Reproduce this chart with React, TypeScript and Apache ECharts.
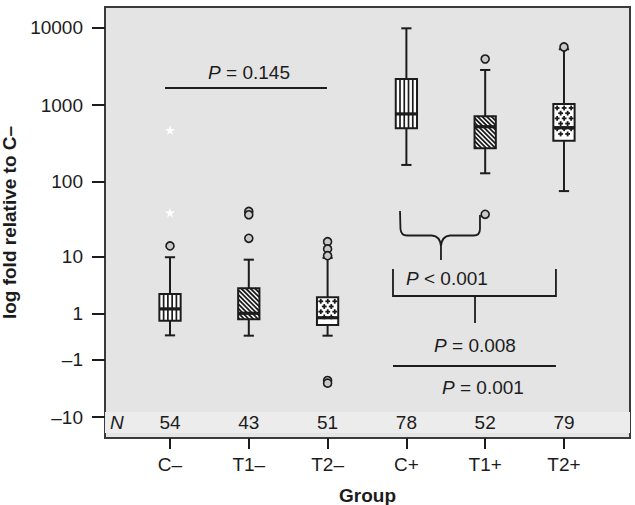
import React, { useEffect, useRef } from 'react';
import * as echarts from 'echarts';

// ---- data (original units) ----
const categories = ['C–', 'T1–', 'T2–', 'C+', 'T1+', 'T2+'];
const nCounts = [54, 43, 51, 78, 52, 79];
const whiskerLow = [0.04, 0.03, 0.03, 167, 130, 76];
const quartile1 = [0.61, 0.68, 0.42, 500, 275, 346];
const medians = [1.29, 1.01, 0.76, 769, 525, 510];
const quartile3 = [2.57, 3.24, 2.24, 2180, 717, 1035];
const whiskerHigh = [9.7, 8.95, 9.5, 9900, 2857, 5300];
const outlierGroup = [0, 1, 1, 1, 2, 2, 2, 2, 2, 4, 4, 5];
const outlierValue = [14, 41, 37, 17.8, 16, 12.7, 10.2, -2.7, -3.0, 3963, 37.5, 5675];
const extremeGroup = [0, 0];
const extremeValue = [475, 39.5];
const yTickValues = [10000, 1000, 100, 10, 1, -1, -10];
const yTickLabels = ['10000', '1000', '100', '10', '1', '–1', '–10'];

// ---- styles ----
const patterns = ['vertical', 'diagonal', 'cross', 'vertical', 'diagonal', 'cross'];
const FONT = '"Liberation Sans", Arial, Helvetica, sans-serif';
const INK = '#1c1c1c';
const FS = 19;

// symmetric log transform used by the y axis
const t = (v: number) => Math.sign(v) * Math.log10(1 + Math.abs(v));

// annotation anchors in axis units (x: category index, y: transformed units)
const ANN = {
  p145: { x0: -0.063, x1: 1.992, y: 3.2225, tx: 1.003, ty: 3.417 },
  brace: { xl: 2.919, xr: 3.934, xm: 3.439, yTop: 1.6286, yTopR: 1.5768, yBend: 1.3953, yBar: 1.3111, yJoin: 1.1751, yTip: 0.9937 },
  p001a: { x0: 2.83, x1: 4.898, yTop: 0.8771, yBar: 0.5272, stemX: 3.871, stemY: 0.1773, tx: 2.995, ty: 0.7475 },
  p008: { tx: 3.871, ty: -0.108 },
  line2: { x0: 2.83, x1: 4.898, y: -0.38 },
  p001b: { tx: 3.972, ty: -0.665 },
  nRowY: -1.1186,
  nLabelX: -0.673,
  bandTop: -0.976,
  bandBottom: -1.248,
};

const starPath = 'path://M50,0 L61,35 L98,35 L68,57 L79,91 L50,70 L21,91 L32,57 L2,35 L39,35 Z';

export default function App() {
  const ref = useRef<HTMLDivElement>(null);

  useEffect(() => {
    const chart = echarts.init(ref.current!, null, { renderer: 'svg' });
    const yTicks = yTickValues.map(t);

    const boxData = categories.map((_, i) => [
      i,
      t(whiskerLow[i]),
      t(quartile1[i]),
      t(medians[i]),
      t(quartile3[i]),
      t(whiskerHigh[i]),
    ]);

    const renderBox = (params: any, api: any) => {
      const i = api.value(0);
      const lo = api.coord([i, api.value(1)]);
      const q1 = api.coord([i, api.value(2)]);
      const md = api.coord([i, api.value(3)]);
      const q3 = api.coord([i, api.value(4)]);
      const hi = api.coord([i, api.value(5)]);
      const cx = lo[0];
      const bw = api.size([1, 0])[0] * 0.27;
      const left = cx - bw / 2;
      const right = cx + bw / 2;
      const top = q3[1];
      const bottom = q1[1];
      const capHalf = bw * 0.24;
      const lineStyle = { stroke: INK, lineWidth: 2 };
      const children: any[] = [];
      children.push({ type: 'line', shape: { x1: cx, y1: hi[1], x2: cx, y2: top }, style: lineStyle });
      children.push({ type: 'line', shape: { x1: cx, y1: bottom, x2: cx, y2: lo[1] }, style: lineStyle });
      children.push({ type: 'line', shape: { x1: cx - capHalf, y1: hi[1], x2: cx + capHalf, y2: hi[1] }, style: lineStyle });
      children.push({ type: 'line', shape: { x1: cx - capHalf, y1: lo[1], x2: cx + capHalf, y2: lo[1] }, style: lineStyle });
      children.push({ type: 'rect', shape: { x: left, y: top, width: bw, height: bottom - top }, style: { fill: '#ffffff' } });

      const pat = patterns[i];
      if (pat === 'vertical') {
        const step = bw / 5;
        for (let k = 1; k < 5; k++) {
          const x = left + k * step;
          children.push({ type: 'line', shape: { x1: x, y1: top, x2: x, y2: bottom }, style: { stroke: INK, lineWidth: 1.7 } });
        }
      } else if (pat === 'diagonal') {
        const step = 4.6;
        for (let k = top - right; k <= bottom - left; k += step) {
          const xa = Math.max(left, top - k);
          const xb = Math.min(right, bottom - k);
          if (xb - xa > 0.5) {
            children.push({ type: 'line', shape: { x1: xa, y1: xa + k, x2: xb, y2: xb + k }, style: { stroke: INK, lineWidth: 1.8 } });
          }
        }
      } else {
        const rowStep = 5.2;
        const colStep = 7;
        const arm = 2.4;
        let row = 0;
        for (let y = top + 4; y <= bottom - 3; y += rowStep, row++) {
          const off = row % 2 === 0 ? 3.8 : 7.3;
          for (let x = left + off; x <= right - 3; x += colStep) {
            children.push({ type: 'line', shape: { x1: x - arm, y1: y, x2: x + arm, y2: y }, style: { stroke: INK, lineWidth: 1.8 } });
            children.push({ type: 'line', shape: { x1: x, y1: y - arm, x2: x, y2: y + arm }, style: { stroke: INK, lineWidth: 1.8 } });
          }
        }
      }
      children.push({ type: 'line', shape: { x1: left, y1: md[1], x2: right, y2: md[1] }, style: { stroke: INK, lineWidth: 3.2 } });
      children.push({ type: 'rect', shape: { x: left, y: top, width: bw, height: bottom - top }, style: { fill: 'none', stroke: INK, lineWidth: 2 } });
      return { type: 'group', children };
    };

    const renderAnnotations = (params: any, api: any) => {
      const c = (x: number, y: number) => api.coord([x, y]);
      const ls = { stroke: INK, lineWidth: 1.8, fill: 'none' };
      const txt = (x: number, y: number, s: string, align = 'center') => {
        const p = c(x, y);
        return {
          type: 'text',
          style: {
            text: s,
            x: p[0],
            y: p[1],
            align,
            verticalAlign: 'middle',
            fontSize: FS,
            fontFamily: FONT,
            fill: INK,
            rich: { i: { fontStyle: 'italic', fontSize: FS, fontFamily: FONT, fill: INK } },
          },
        };
      };
      const a = ANN.p145;
      const b = ANN.brace;
      const q = ANN.p001a;
      const l2 = ANN.line2;
      const pt = (x: number, y: number) => {
        const p = c(x, y);
        return p[0].toFixed(2) + ',' + p[1].toFixed(2);
      };
      const bracePath =
        'M' + pt(b.xl, b.yTop) +
        ' L' + pt(b.xl + 0.006, b.yBend) +
        ' Q' + pt(b.xl + 0.012, b.yBar) + ' ' + pt(b.xl + 0.09, b.yBar) +
        ' L' + pt(b.xm - 0.115, b.yBar) +
        ' Q' + pt(b.xm - 0.01, b.yBar - 0.01) + ' ' + pt(b.xm, b.yJoin) +
        ' L' + pt(b.xm, b.yTip) +
        ' M' + pt(b.xm, b.yJoin) +
        ' Q' + pt(b.xm + 0.01, b.yBar - 0.01) + ' ' + pt(b.xm + 0.115, b.yBar) +
        ' L' + pt(b.xr - 0.08, b.yBar) +
        ' Q' + pt(b.xr, b.yBar) + ' ' + pt(b.xr, b.yBend) +
        ' L' + pt(b.xr, b.yTopR);
      const seg = (x0: number, y0: number, x1: number, y1: number) => {
        const p0 = c(x0, y0);
        const p1 = c(x1, y1);
        return { type: 'line', shape: { x1: p0[0], y1: p0[1], x2: p1[0], y2: p1[1] }, style: ls };
      };
      const children: any[] = [
        seg(a.x0, a.y, a.x1, a.y),
        txt(a.tx, a.ty, '{i|P} = 0.145'),
        { type: 'path', shape: { pathData: bracePath }, style: ls },
        { type: 'polyline', shape: { points: [c(q.x0, q.yTop), c(q.x0, q.yBar), c(q.x1, q.yBar), c(q.x1, q.yTop)] }, style: ls },
        seg(q.stemX, q.yBar, q.stemX, q.stemY),
        txt(q.tx, q.ty, '{i|P} < 0.001', 'left'),
        txt(ANN.p008.tx, ANN.p008.ty, '{i|P} = 0.008'),
        seg(l2.x0, l2.y, l2.x1, l2.y),
        txt(ANN.p001b.tx, ANN.p001b.ty, '{i|P} = 0.001'),
      ];
      return { type: 'group', children };
    };

    const nData: any[] = [
      { value: [ANN.nLabelX, ANN.nRowY], label: { formatter: 'N', fontStyle: 'italic' } },
      ...nCounts.map((n, i) => ({ value: [i, ANN.nRowY], label: { formatter: String(n) } })),
    ];

    const option: any = {
      animation: false,
      backgroundColor: '#ffffff',
      textStyle: { fontFamily: FONT },
      grid: {
        left: 105,
        right: 5,
        top: 7,
        bottom: 67,
        containLabel: false,
        outerBoundsMode: 'none',
        show: true,
        backgroundColor: '#e4e4e4',
        borderColor: '#3a3a3a',
        borderWidth: 2,
      },
      xAxis: {
        type: 'value',
        min: -0.825,
        max: 5.838,
        axisLine: { show: false, onZero: false },
        splitLine: { show: false },
        axisTick: { show: true, customValues: [0, 1, 2, 3, 4, 5], length: 11, lineStyle: { color: INK, width: 2 } },
        axisLabel: {
          customValues: [0, 1, 2, 3, 4, 5],
          formatter: (v: number) => categories[Math.round(v)] ?? '',
          margin: 17,
          fontSize: FS,
          color: INK,
          fontFamily: FONT,
        },
        name: 'Group',
        nameLocation: 'middle',
        nameGap: 48,
        nameTextStyle: { fontWeight: 'bold', fontSize: FS, color: INK, fontFamily: FONT },
      },
      yAxis: {
        type: 'value',
        min: -1.313,
        max: 4.272,
        axisLine: { show: false, onZero: false },
        splitLine: { show: false },
        axisTick: { show: true, customValues: yTicks, length: 13, lineStyle: { color: INK, width: 2 } },
        axisLabel: {
          customValues: yTicks,
          formatter: (v: number) => {
            const idx = yTicks.findIndex((y) => Math.abs(y - v) < 1e-6);
            return idx >= 0 ? yTickLabels[idx] : '';
          },
          margin: 22,
          fontSize: FS,
          color: INK,
          fontFamily: FONT,
        },
        name: 'log fold relative to C–',
        nameLocation: 'middle',
        nameGap: 79,
        nameTextStyle: { fontWeight: 'bold', fontSize: FS, color: INK, fontFamily: FONT },
      },
      series: [
        {
          type: 'custom',
          name: 'annotations',
          data: [[0, 0]],
          clip: false,
          silent: true,
          z: 1,
          renderItem: renderAnnotations,
          markArea: {
            silent: true,
            itemStyle: { color: '#ececec', opacity: 1 },
            data: [[{ yAxis: ANN.bandTop }, { yAxis: ANN.bandBottom }]],
          },
        },
        {
          type: 'scatter',
          name: 'N',
          data: nData,
          symbolSize: 0,
          z: 3,
          itemStyle: { opacity: 1 },
          label: { show: true, position: 'inside', fontSize: FS, color: INK, fontFamily: FONT },
        },
        {
          type: 'custom',
          name: 'boxes',
          data: boxData,
          z: 4,
          renderItem: renderBox,
        },
        {
          type: 'scatter',
          name: 'outliers',
          data: outlierGroup.map((g, i) => [g, t(outlierValue[i])]),
          symbol: 'circle',
          symbolSize: 8,
          z: 5,
          itemStyle: { color: '#c9c9c9', borderColor: INK, borderWidth: 1.6, opacity: 1 },
        },
        {
          type: 'scatter',
          name: 'extremes',
          data: extremeGroup.map((g, i) => [g, t(extremeValue[i])]),
          symbol: starPath,
          symbolSize: 10,
          z: 5,
          itemStyle: { color: '#ffffff', opacity: 1 },
        },
      ],
    };

    chart.setOption(option);
    return () => chart.dispose();
  }, []);

  return <div ref={ref} style={{ position: 'fixed', left: 0, top: 0, width: 635, height: 505 }} />;
}
